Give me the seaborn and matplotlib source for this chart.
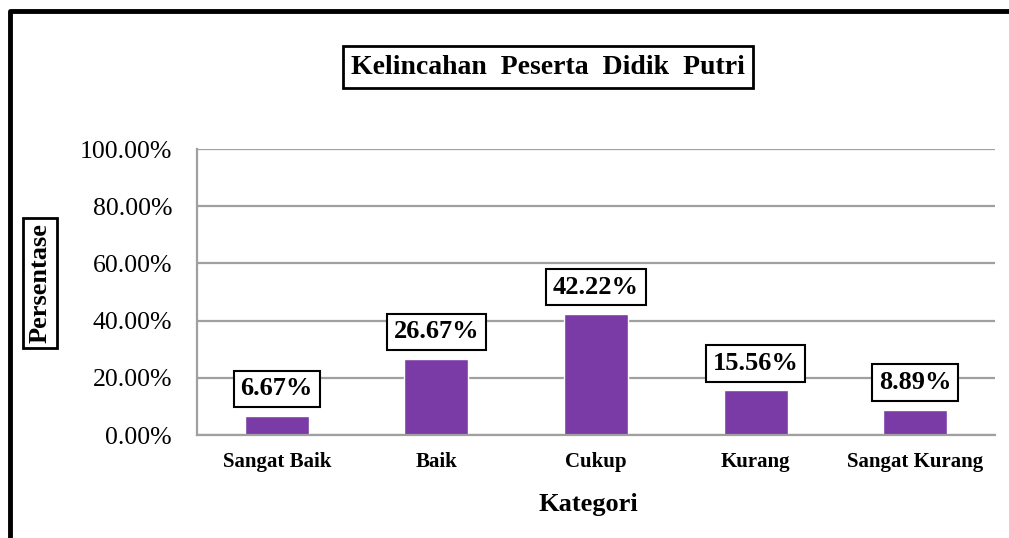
import matplotlib
matplotlib.use("Agg")
import matplotlib.pyplot as plt
from matplotlib.lines import Line2D
from matplotlib.ticker import FuncFormatter
import seaborn as sns

# Data
categories = ["Sangat Baik", "Baik", "Cukup", "Kurang", "Sangat Kurang"]
percentages = [6.67, 26.67, 42.22, 15.56, 8.89]
value_labels = ["6.67%", "26.67%", "42.22%", "15.56%", "8.89%"]

sns.set_style("white")
plt.rcParams["font.family"] = ["Liberation Serif", "DejaVu Serif"]
plt.rcParams["text.color"] = "black"
plt.rcParams["xtick.labelcolor"] = "black"
plt.rcParams["ytick.labelcolor"] = "black"

W, H = 1009, 538
fig = plt.figure(figsize=(W / 100, H / 100), dpi=100)
ax = fig.add_axes([197 / W, 1 - 435 / H, 798 / W, 286 / H])

sns.barplot(x=categories, y=percentages, color="#7B3BA6", saturation=1,
            width=0.4, ax=ax)

# Axes formatting
ax.set_ylim(0, 100)
ax.set_xlim(-0.5, len(categories) - 0.5)
ax.set_yticks([0, 20, 40, 60, 80, 100])
ax.yaxis.set_major_formatter(FuncFormatter(lambda v, p: f"{v:.2f}%"))
ax.grid(axis="y", color="#A0A0A0", linewidth=1.6)
ax.set_axisbelow(True)
for side in ["top", "right"]:
    ax.spines[side].set_visible(False)
ax.spines["left"].set_color("#A0A0A0")
ax.spines["left"].set_linewidth(1.6)
ax.spines["bottom"].set_color("#A0A0A0")
ax.spines["bottom"].set_linewidth(1.6)
ax.tick_params(axis="y", length=4, width=1.6, color="#A0A0A0", pad=14,
               labelsize=18.5, labelcolor="black")
ax.tick_params(axis="x", length=0, pad=12, labelsize=15, labelcolor="black")
for lbl in ax.get_xticklabels():
    lbl.set_fontweight("bold")
ax.set_xlabel("")
ax.set_ylabel("")

# Boxed value labels above bars
box = dict(boxstyle="square,pad=0.25", fc="white", ec="black", lw=1.5)
for i, (v, t) in enumerate(zip(percentages, value_labels)):
    ax.annotate(t, (i, v), xytext=(0, 27), textcoords="offset pixels",
                ha="center", va="center", fontsize=19, fontweight="bold",
                color="black", bbox=box)

# Title, axis labels
fig.text(548 / W, 1 - 67 / H, "Kelincahan  Peserta  Didik  Putri",
         ha="center", va="center", fontsize=20, fontweight="bold",
         color="black",
         bbox=dict(boxstyle="square,pad=0.3", fc="white", ec="black", lw=2))
fig.text(40 / W, 1 - 283 / H, "Persentase", rotation=90, ha="center",
         va="center", fontsize=19, fontweight="bold", color="black",
         bbox=dict(boxstyle="square,pad=0.2", fc="white", ec="black", lw=2))
fig.text(588 / W, 1 - 505 / H, "Kategori", ha="center", va="center",
         fontsize=19, fontweight="bold", color="black")

# Outer frame (left and top edges visible)
fig.add_artist(Line2D([10 / W, 10 / W, 1.01], [-0.01, 1 - 11 / H, 1 - 11 / H],
                      transform=fig.transFigure, color="black", lw=3.5))

plt.savefig("out.png", dpi=100)
